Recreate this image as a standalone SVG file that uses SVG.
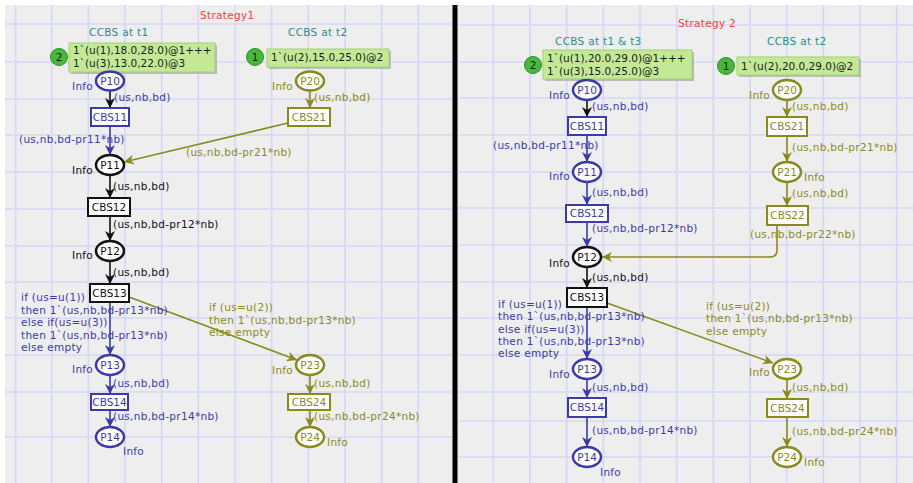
<svg xmlns="http://www.w3.org/2000/svg" width="913" height="483" viewBox="0 0 913 483">
<defs>
<style>
text{font-family:"DejaVu Sans","Liberation Sans",sans-serif;font-size:10.5px;}
.lbl{letter-spacing:0.3px;}
.bl{fill:#3a3aac;}
.ol{fill:#8a8a1c;}
.bk{fill:#111111;}
.red{fill:#ff3a3a;}
.teal{fill:#2c8c8c;}
.tok{fill:#1a1a1a;}
.grid{stroke:#d6d6f6;stroke-width:1.6;fill:none;}
.pB{fill:#ffffff;stroke:#3a3aac;stroke-width:2.5;}
.pO{fill:#ffffff;stroke:#8a8a1c;stroke-width:2.5;}
.pK{fill:#ffffff;stroke:#111111;stroke-width:2.5;}
.tB{fill:#ffffff;stroke:#3a3aac;stroke-width:2;}
.tO{fill:#ffffff;stroke:#8a8a1c;stroke-width:2;}
.tK{fill:#ffffff;stroke:#111111;stroke-width:2;}
.aB{stroke:#3a3aac;stroke-width:1.6;fill:none;marker-end:url(#mB);}
.aO{stroke:#8a8a1c;stroke-width:1.6;fill:none;marker-end:url(#mO);}
.aK{stroke:#111111;stroke-width:1.6;fill:none;marker-end:url(#mK);}
.box{fill:#c4e996;stroke:#a2d070;stroke-width:1;}
.shadow{fill:#9a9a9a;opacity:0.6;}
.cnt{fill:#48b83a;stroke:#2f8f28;stroke-width:1;}
.c{text-anchor:middle;}
</style>
<marker id="mB" markerUnits="userSpaceOnUse" markerWidth="11" markerHeight="10" refX="10" refY="5" orient="auto"><path d="M0,0 L10,5 L0,10 L3,5 z" fill="#3a3aac"/></marker>
<marker id="mO" markerUnits="userSpaceOnUse" markerWidth="11" markerHeight="10" refX="10" refY="5" orient="auto"><path d="M0,0 L10,5 L0,10 L3,5 z" fill="#8a8a1c"/></marker>
<marker id="mK" markerUnits="userSpaceOnUse" markerWidth="11" markerHeight="10" refX="10" refY="5" orient="auto"><path d="M0,0 L10,5 L0,10 L3,5 z" fill="#111111"/></marker>
</defs>
<rect x="0" y="0" width="913" height="483" fill="#ffffff"/>
<rect x="5" y="5" width="908" height="478" fill="#eeeeee"/>
<g id="grid">
<path class="grid" d="M15.7,5V483M51.7,5V483M88.3,5V483M125,5V483M161.7,5V483M198.3,5V483M235,5V483M271.7,5V483M308.3,5V483M345,5V483M381.7,5V483M418.3,5V483"/>
<path class="grid" d="M5,24H452M5,62H452M5,99H452M5,135H452M5,172H452M5,209H452M5,246H452M5,282H452M5,318H452M5,355H452M5,392H452M5,437H452"/>
<path class="grid" d="M493.3,5V483M530,5V483M566.7,5V483M603.3,5V483M640,5V483M676.7,5V483M713.3,5V483M750,5V483M786.7,5V483M823.3,5V483M860,5V483M896.7,5V483"/>
<path class="grid" d="M458,25H913M458,62H913M458,98H913M458,135H913M458,172H913M458,208H913M458,245H913M458,282H913M458,318H913M458,355H913M458,392H913M458,421H913M458,457H913"/>
</g>
<rect id="divider" x="452.5" y="5" width="5" height="478" fill="#000000"/>

<!-- LEFT PANEL titles -->
<g id="titlesL">
<text class="red lbl" x="200" y="19">Strategy1</text>
<text class="teal lbl" x="89" y="36">CCBS at t1</text>
<text class="teal lbl" x="288" y="36">CCBS at t2</text>
</g>

<g id="connectors">
<!-- left -->
<line class="aK" x1="110" y1="91" x2="110" y2="108"/>
<line class="aB" x1="110" y1="126" x2="110" y2="155"/>
<line class="aO" x1="288" y1="123" x2="124" y2="162"/>
<line class="aO" x1="310" y1="91" x2="310" y2="108"/>
<line class="aK" x1="110" y1="175" x2="110" y2="198"/>
<line class="aK" x1="110" y1="216" x2="110" y2="241"/>
<line class="aK" x1="110" y1="261" x2="110" y2="284"/>
<line class="aB" x1="110" y1="302" x2="110" y2="355"/>
<line class="aB" x1="110" y1="375" x2="110" y2="394"/>
<line class="aB" x1="110" y1="410" x2="110" y2="427"/>
<line class="aO" x1="129" y1="297" x2="297" y2="360"/>
<line class="aO" x1="310" y1="375" x2="310" y2="394"/>
<line class="aO" x1="310" y1="410" x2="310" y2="427"/>
<!-- right -->
<line class="aK" x1="587" y1="100" x2="587" y2="117"/>
<line class="aB" x1="587" y1="135" x2="587" y2="162"/>
<line class="aB" x1="587" y1="182" x2="587" y2="205"/>
<line class="aB" x1="587" y1="222" x2="587" y2="247"/>
<line class="aK" x1="587" y1="267" x2="587" y2="288"/>
<line class="aB" x1="587" y1="307" x2="587" y2="359"/>
<line class="aB" x1="587" y1="379" x2="587" y2="398"/>
<line class="aB" x1="587" y1="417" x2="587" y2="447"/>
<line class="aO" x1="787" y1="100" x2="787" y2="117"/>
<line class="aO" x1="787" y1="136" x2="787" y2="162"/>
<line class="aO" x1="787" y1="182" x2="787" y2="206"/>
<path class="aO" d="M777,225 L777,250 Q777,257 770,257 L602,257"/>
<line class="aO" x1="607" y1="303" x2="773" y2="363"/>
<line class="aO" x1="787" y1="379" x2="787" y2="399"/>
<line class="aO" x1="787" y1="417" x2="787" y2="447"/>
</g>

<g id="arc-labels">
<!-- left -->
<text class="bl lbl" x="114" y="101">(us,nb,bd)</text>
<text class="ol lbl" x="314" y="101">(us,nb,bd)</text>
<text class="bl lbl" x="19" y="143">(us,nb,bd-pr11*nb)</text>
<text class="ol lbl" x="186" y="156">(us,nb,bd-pr21*nb)</text>
<text class="bk lbl" x="113" y="190">(us,nb,bd)</text>
<text class="bk lbl" x="113" y="228">(us,nb,bd-pr12*nb)</text>
<text class="bk lbl" x="113" y="276">(us,nb,bd)</text>
<text class="bl lbl" x="21" y="301">if (us=u(1))</text>
<text class="bl lbl" x="21" y="313.5">then 1`(us,nb,bd-pr13*nb)</text>
<text class="bl lbl" x="21" y="326">else if(us=u(3))</text>
<text class="bl lbl" x="21" y="338.5">then 1`(us,nb,bd-pr13*nb)</text>
<text class="bl lbl" x="21" y="351">else empty</text>
<text class="ol lbl" x="209" y="311">if (us=u(2))</text>
<text class="ol lbl" x="209" y="324">then 1`(us,nb,bd-pr13*nb)</text>
<text class="ol lbl" x="209" y="336">else empty</text>
<text class="bl lbl" x="113" y="387">(us,nb,bd)</text>
<text class="bl lbl" x="113" y="420">(us,nb,bd-pr14*nb)</text>
<text class="ol lbl" x="314" y="387">(us,nb,bd)</text>
<text class="ol lbl" x="314" y="420">(us,nb,bd-pr24*nb)</text>
<!-- right -->
<text class="bl lbl" x="592" y="110">(us,nb,bd)</text>
<text class="ol lbl" x="792" y="110">(us,nb,bd)</text>
<text class="bl lbl" x="493" y="149">(us,nb,bd-pr11*nb)</text>
<text class="ol lbl" x="792" y="151">(us,nb,bd-pr21*nb)</text>
<text class="bl lbl" x="592" y="196">(us,nb,bd)</text>
<text class="ol lbl" x="792" y="197">(us,nb,bd)</text>
<text class="bl lbl" x="592" y="232">(us,nb,bd-pr12*nb)</text>
<text class="ol lbl" x="750" y="238">(us,nb,bd-pr22*nb)</text>
<text class="bk lbl" x="592" y="281">(us,nb,bd)</text>
<text class="bl lbl" x="498" y="308">if (us=u(1))</text>
<text class="bl lbl" x="498" y="320">then 1`(us,nb,bd-pr13*nb)</text>
<text class="bl lbl" x="498" y="332.5">else if(us=u(3))</text>
<text class="bl lbl" x="498" y="344.5">then 1`(us,nb,bd-pr13*nb)</text>
<text class="bl lbl" x="498" y="356.5">else empty</text>
<text class="ol lbl" x="706" y="310">if (us=u(2))</text>
<text class="ol lbl" x="706" y="322">then 1`(us,nb,bd-pr13*nb)</text>
<text class="ol lbl" x="706" y="335">else empty</text>
<text class="bl lbl" x="592" y="391">(us,nb,bd)</text>
<text class="ol lbl" x="792" y="391">(us,nb,bd)</text>
<text class="bl lbl" x="592" y="434">(us,nb,bd-pr14*nb)</text>
<text class="ol lbl" x="792" y="435">(us,nb,bd-pr24*nb)</text>
</g>

<!-- LEFT tokens -->
<g id="L_tokens1">
<rect class="shadow" x="71" y="45" width="146" height="29"/>
<rect class="box" x="69" y="43" width="146" height="29"/>
<text class="tok" x="73" y="54">1`(u(1),18.0,28.0)@1+++</text>
<text class="tok" x="73" y="67">1`(u(3),13.0,22.0)@3</text>
<circle class="cnt" cx="59" cy="57" r="8.5"/>
<text class="tok c" x="59" y="61">2</text>
</g>
<g id="L_tokens2">
<rect class="shadow" x="269" y="51" width="122" height="18"/>
<rect class="box" x="267" y="49" width="122" height="18"/>
<text class="tok" x="271" y="61">1`(u(2),15.0,25.0)@2</text>
<circle class="cnt" cx="255" cy="57" r="8.5"/>
<text class="tok c" x="255" y="61">1</text>
</g>

<g id="L_P10"><ellipse class="pB" cx="110" cy="81" rx="14" ry="9.5"/><text class="bl c" x="110" y="85">P10</text><text class="bl lbl" x="72" y="90">Info</text></g>
<g id="L_P11"><ellipse class="pK" cx="110" cy="165" rx="14" ry="10"/><text class="bk c" x="110" y="169">P11</text><text class="bk lbl" x="72" y="174">Info</text></g>
<g id="L_P12"><ellipse class="pK" cx="110" cy="251" rx="14" ry="10"/><text class="bk c" x="110" y="255">P12</text><text class="bk lbl" x="72" y="259">Info</text></g>
<g id="L_P13"><ellipse class="pB" cx="110" cy="365" rx="14" ry="10"/><text class="bl c" x="110" y="369">P13</text><text class="bl lbl" x="72" y="373">Info</text></g>
<g id="L_P14"><ellipse class="pB" cx="110" cy="437" rx="14" ry="10"/><text class="bl c" x="110" y="441">P14</text><text class="bl lbl" x="123" y="455">Info</text></g>
<g id="L_P20"><ellipse class="pO" cx="310" cy="81" rx="14" ry="9.5"/><text class="ol c" x="310" y="85">P20</text><text class="ol lbl" x="272" y="90">Info</text></g>
<g id="L_P23"><ellipse class="pO" cx="310" cy="365" rx="14" ry="10"/><text class="ol c" x="310" y="369">P23</text><text class="ol lbl" x="272" y="374">Info</text></g>
<g id="L_P24"><ellipse class="pO" cx="310" cy="437" rx="14" ry="10"/><text class="ol c" x="310" y="441">P24</text><text class="ol lbl" x="327" y="446">Info</text></g>

<g id="L_CBS11"><rect class="tB" x="91" y="108" width="38" height="18"/><text class="bl c" x="110" y="121">CBS11</text></g>
<g id="L_CBS21"><rect class="tO" x="288" y="108" width="42" height="18"/><text class="ol c" x="309" y="121">CBS21</text></g>
<g id="L_CBS12"><rect class="tK" x="88" y="198" width="42" height="18"/><text class="bk c" x="109" y="211">CBS12</text></g>
<g id="L_CBS13"><rect class="tK" x="90" y="284" width="39" height="18"/><text class="bk c" x="109.5" y="297">CBS13</text></g>
<g id="L_CBS14"><rect class="tB" x="91" y="394" width="37" height="16"/><text class="bl c" x="109.5" y="406">CBS14</text></g>
<g id="L_CBS24"><rect class="tO" x="288" y="394" width="42" height="16"/><text class="ol c" x="309" y="406">CBS24</text></g>

<!-- RIGHT PANEL -->
<g id="titlesR">
<text class="red lbl" x="678" y="27">Strategy 2</text>
<text class="teal lbl" x="555" y="45">CCBS at t1 &amp; t3</text>
<text class="teal lbl" x="767" y="45">CCBS at t2</text>
</g>
<g id="R_tokens1">
<rect class="shadow" x="545" y="52" width="149" height="29"/>
<rect class="box" x="543" y="50" width="149" height="29"/>
<text class="tok" x="547" y="62">1`(u(1),20.0,29.0)@1+++</text>
<text class="tok" x="547" y="75">1`(u(3),15.0,25.0)@3</text>
<circle class="cnt" cx="533" cy="65" r="8.5"/>
<text class="tok c" x="533" y="69">2</text>
</g>
<g id="R_tokens2">
<rect class="shadow" x="739" y="59" width="122" height="18"/>
<rect class="box" x="737" y="57" width="122" height="18"/>
<text class="tok" x="741" y="70">1`(u(2),20.0,29.0)@2</text>
<circle class="cnt" cx="726" cy="66" r="8.5"/>
<text class="tok c" x="726" y="70">1</text>
</g>

<g id="R_P10"><ellipse class="pB" cx="587" cy="90" rx="14" ry="10"/><text class="bl c" x="587" y="94">P10</text><text class="bl lbl" x="549" y="99">Info</text></g>
<g id="R_P11"><ellipse class="pB" cx="587" cy="172" rx="14" ry="10"/><text class="bl c" x="587" y="176">P11</text><text class="bl lbl" x="549" y="180">Info</text></g>
<g id="R_P12"><ellipse class="pK" cx="587" cy="257" rx="14" ry="10"/><text class="bk c" x="587" y="261">P12</text><text class="bk lbl" x="549" y="267">Info</text></g>
<g id="R_P13"><ellipse class="pB" cx="587" cy="369" rx="14" ry="10"/><text class="bl c" x="587" y="373">P13</text><text class="bl lbl" x="549" y="378">Info</text></g>
<g id="R_P14"><ellipse class="pB" cx="587" cy="457" rx="14" ry="10"/><text class="bl c" x="587" y="461">P14</text><text class="bl lbl" x="600" y="476">Info</text></g>
<g id="R_P20"><ellipse class="pO" cx="787" cy="90" rx="14" ry="10"/><text class="ol c" x="787" y="94">P20</text><text class="ol lbl" x="749" y="99">Info</text></g>
<g id="R_P21"><ellipse class="pO" cx="787" cy="172" rx="14" ry="10"/><text class="ol c" x="787" y="176">P21</text><text class="ol lbl" x="804" y="181">Info</text></g>
<g id="R_P23"><ellipse class="pO" cx="787" cy="369" rx="14" ry="10"/><text class="ol c" x="787" y="373">P23</text><text class="ol lbl" x="749" y="376">Info</text></g>
<g id="R_P24"><ellipse class="pO" cx="787" cy="457" rx="14" ry="10"/><text class="ol c" x="787" y="461">P24</text><text class="ol lbl" x="804" y="466">Info</text></g>

<g id="R_CBS11"><rect class="tB" x="568" y="117" width="38" height="18"/><text class="bl c" x="587" y="130">CBS11</text></g>
<g id="R_CBS12"><rect class="tB" x="566" y="205" width="42" height="17"/><text class="bl c" x="587" y="217">CBS12</text></g>
<g id="R_CBS13"><rect class="tK" x="567" y="288" width="40" height="19"/><text class="bk c" x="587" y="301">CBS13</text></g>
<g id="R_CBS14"><rect class="tB" x="568" y="398" width="38" height="19"/><text class="bl c" x="587" y="411">CBS14</text></g>
<g id="R_CBS21"><rect class="tO" x="767" y="117" width="40" height="19"/><text class="ol c" x="787" y="130">CBS21</text></g>
<g id="R_CBS22"><rect class="tO" x="767" y="206" width="41" height="19"/><text class="ol c" x="787.5" y="219">CBS22</text></g>
<g id="R_CBS24"><rect class="tO" x="767" y="399" width="41" height="18"/><text class="ol c" x="787.5" y="412">CBS24</text></g>
</svg>
